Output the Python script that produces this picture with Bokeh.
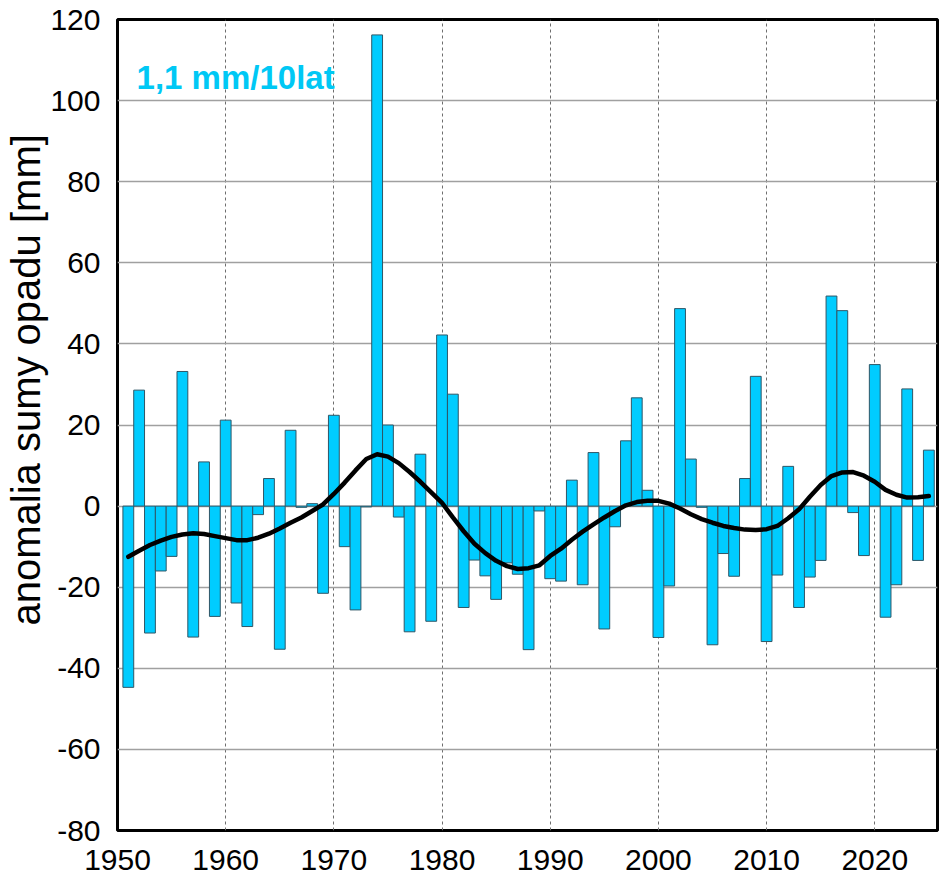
from bokeh.plotting import figure
from bokeh.models import ColumnDataSource, FixedTicker, Range1d, Label, Title
from bokeh.embed import file_html
from bokeh.resources import INLINE

years = list(range(1951, 2026))
anomaly = [
    -44.7, 28.6, -31.3, -16.0, -12.4, 33.2, -32.3, 10.9, -27.2, 21.2,   # 1951-1960
    -23.9, -29.7, -2.1, 6.8, -35.3, 18.7, -0.3, 0.6, -21.5, 22.4,       # 1961-1970
    -10.0, -25.6, -0.2, 116.2, 20.0, -2.7, -31.0, 12.8, -28.4, 42.2,    # 1971-1980
    27.6, -25.0, -13.3, -17.2, -23.0, -14.0, -16.8, -35.4, -1.2, -17.9, # 1981-1990
    -18.5, 6.4, -19.4, 13.2, -30.3, -5.1, 16.1, 26.7, 3.9, -32.4,       # 1991-2000
    -19.7, 48.7, 11.6, -0.3, -34.2, -11.7, -17.3, 6.8, 32.0, -33.4,     # 2001-2010
    -17.0, 9.8, -25.0, -17.5, -13.4, 51.8, 48.2, -1.6, -12.2, 34.9,     # 2011-2020
    -27.4, -19.4, 28.9, -13.4, 13.8,                                    # 2021-2025
]
smooth = [
    -12.5, -11.0, -9.6, -8.5, -7.6, -7.0, -6.7, -6.9, -7.4, -7.9,
    -8.4, -8.4, -7.8, -6.8, -5.5, -4.1, -2.8, -1.2, 0.4, 3.0,
    5.8, 8.8, 11.6, 12.8, 12.2, 10.6, 8.4, 6.0, 3.4, 0.8,
    -2.8, -6.2, -9.3, -11.6, -13.5, -14.8, -15.5, -15.3, -14.6, -12.3,
    -10.5, -8.3, -6.3, -4.5, -2.8, -1.2, 0.2, 1.0, 1.3, 1.3,
    0.6, -0.6, -2.0, -3.2, -4.1, -4.9, -5.4, -5.8, -5.9, -5.7,
    -4.9, -3.0, -0.8, 2.3, 5.2, 7.4, 8.3, 8.4, 7.5, 6.0,
    4.0, 2.8, 2.1, 2.2, 2.5,
]
x_ticks = [1950, 1960, 1970, 1980, 1990, 2000, 2010, 2020]
y_ticks = [-80, -60, -40, -20, 0, 20, 40, 60, 80, 100, 120]
y_tick_labels = ["-80", "-60", "-40", "-20", "0", "20", "40", "60", "80", "100", "120"]
trend_text = "1,1 mm/10lat"
y_title = "anomalia sumy opadu [mm]"

src = ColumnDataSource(dict(year=years, anomaly=anomaly, smooth=smooth))

p = figure(width=940, height=883, output_backend="svg", toolbar_location=None,
           x_range=Range1d(1950, 2025.8), y_range=Range1d(-80, 120),
           min_border_left=117, min_border_top=19, min_border_right=3,
           min_border_bottom=53)

p.outline_line_color = "black"
p.outline_line_width = 3

p.xgrid.ticker = FixedTicker(ticks=x_ticks)
p.ygrid.ticker = FixedTicker(ticks=y_ticks)
p.xgrid.grid_line_color = "#6e6e6e"
p.xgrid.grid_line_dash = "3 3"
p.xgrid.grid_line_width = 1
p.ygrid.grid_line_color = "#a0a0a0"
p.ygrid.grid_line_width = 1.5

p.vbar(x="year", top="anomaly", bottom=0, width=1.0, source=src,
       fill_color="#00ccff", line_color="#2f5666", line_width=1)
p.line(x="year", y="smooth", source=src, line_color="black", line_width=4.5,
       line_join="round", line_cap="round")

for ax in (p.xaxis[0], p.yaxis[0]):
    ax.axis_line_color = None
    ax.major_tick_line_color = None
    ax.minor_tick_line_color = None
    ax.major_tick_out = 0
    ax.major_tick_in = 0
    ax.minor_tick_out = 0
    ax.minor_tick_in = 0
    ax.major_label_text_font = "Liberation Sans"
    ax.major_label_text_font_size = "30px"
    ax.major_label_text_color = "black"

p.xaxis.ticker = FixedTicker(ticks=x_ticks)
p.yaxis.ticker = FixedTicker(ticks=y_ticks)
p.yaxis.major_label_overrides = {t: s for t, s in zip(y_ticks, y_tick_labels)}
p.xaxis.major_label_standoff = 19
p.yaxis.major_label_standoff = 17

# y-axis title as a side title (allows shifting it up as in the original)
p.add_layout(Title(text=y_title, align="left", offset=205, standoff=0,
                   text_color="black", text_font="Liberation Sans",
                   text_font_style="normal", text_font_size="40px"), "left")

p.add_layout(Label(x=1951.76, y=105.7, text=trend_text, text_color="#00c8f5",
                   text_font="Liberation Sans", text_font_style="bold",
                   text_font_size="33px", text_baseline="alphabetic"))

open("out.html", "w").write(file_html(p, INLINE))
